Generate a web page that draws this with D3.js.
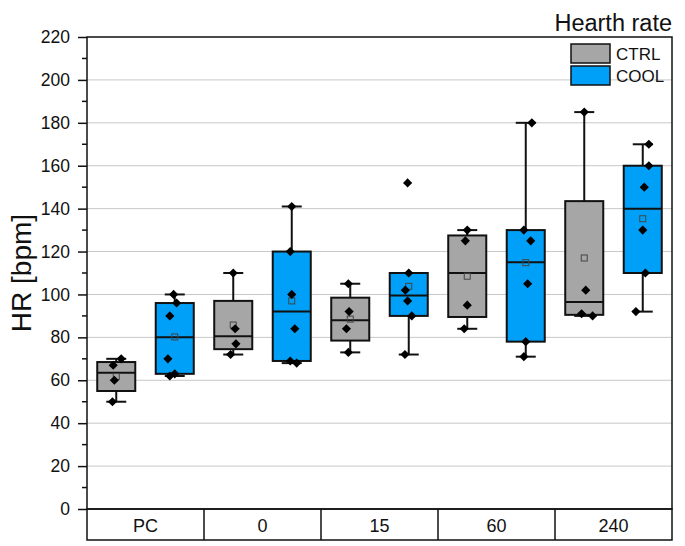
<!DOCTYPE html>
<html>
<head>
<meta charset="utf-8">
<script src="https://cdn.jsdelivr.net/npm/d3@7"></script>
<style>
  body { margin: 0; background: #fff; }
  svg { font-family: "Liberation Sans", Arial, sans-serif; }
</style>
</head>
<body>
<svg id="chart" width="685" height="546"></svg>
<script>
// Heart rate box chart, CTRL vs COOL per time point
const categories = ['PC', '0', '15', '60', '240'];
const groups = ['CTRL', 'COOL'];
const yTicks = [0, 20, 40, 60, 80, 100, 120, 140, 160, 180, 200, 220];

// box statistics
const ctrlQ1 = [55, 74.5, 78.5, 89.5, 90.5];
const ctrlMedian = [63.5, 80.5, 88, 110, 96.5];
const ctrlQ3 = [68.5, 97, 98.5, 127.5, 143.5];
const ctrlLow = [50, 72, 73, 84, 90];
const ctrlHigh = [70, 110, 105, 130, 185];
const ctrlMean = [61.75, 85.75, 88.5, 108.5, 117];

const coolQ1 = [63, 69, 90, 78, 110];
const coolMedian = [80, 92, 99.5, 115, 140];
const coolQ3 = [96, 120, 110, 130, 160];
const coolLow = [62, 68, 72, 71, 92];
const coolHigh = [100, 141, 110, 180, 170];
const coolMean = [80.2, 97, 103.8, 114.8, 135.3];

// individual animals
const ctrlPoints = [[70, 67, 60, 50], [110, 84, 77, 72], [105, 92, 84, 73], [130, 125, 95, 84], [185, 102, 91, 90]];
const coolPoints = [[100, 96, 90, 70, 63, 62], [141, 120, 100, 84, 69, 68], [152, 110, 102, 97, 90, 72],
                    [180, 130, 125, 105, 78, 71], [170, 160, 150, 130, 110, 92]];

// horizontal scatter of the points, as a fraction of the box width
const ctrlJitter = [[.13, -.08, -.05, -.1], [0, .05, .07, -.07], [-.05, -.03, -.1, -.05], [0, -.05, 0, -.08], [0, .04, -.07, .22]];
const coolJitter = [[-.03, .05, -.13, -.18, 0, -.13], [0, -.04, 0, .08, -.04, .13], [-.03, 0, -.09, -.03, .08, -.1],
                    [.16, -.05, .13, .05, 0, -.05], [.16, .16, .04, 0, .07, -.18]];

const colors = { CTRL: '#a6a6a6', COOL: '#00a0f8' };

const plotLeft = 87, plotRight = 672, plotTop = 37, plotBottom = 509, rowH = 31;

const svg = d3.select('#chart');

const x = d3.scaleBand().domain(categories).range([plotLeft, plotRight]);
const sub = d3.scaleBand().domain(groups).range([0, x.bandwidth()]);
const y = d3.scaleLinear().domain([0, 220]).range([plotBottom, plotTop]);
const boxW = sub.bandwidth() * 0.65;
const capW = 20;

// build one record per box
const boxes = [];
categories.forEach((c, i) => {
    boxes.push({ cat: c, group: 'CTRL', q1: ctrlQ1[i], med: ctrlMedian[i], q3: ctrlQ3[i],
        lo: ctrlLow[i], hi: ctrlHigh[i], mean: ctrlMean[i], pts: ctrlPoints[i], jit: ctrlJitter[i] });
    boxes.push({ cat: c, group: 'COOL', q1: coolQ1[i], med: coolMedian[i], q3: coolQ3[i],
        lo: coolLow[i], hi: coolHigh[i], mean: coolMean[i], pts: coolPoints[i], jit: coolJitter[i] });
});
boxes.forEach(b => { b.cx = x(b.cat) + sub(b.group) + sub.bandwidth() / 2; });

// gridlines
svg.append('g')
    .selectAll('line')
    .data(yTicks.filter(t => t > 0 && t < 220))
    .enter()
    .append('line')
    .attr('x1', plotLeft).attr('x2', plotRight)
    .attr('y1', d => y(d)).attr('y2', d => y(d))
    .attr('stroke', '#c8c8c8')
    .attr('stroke-width', 1);

// whiskers
const wg = svg.append('g').attr('stroke', '#111').attr('stroke-width', 2);
boxes.forEach(b => {
    wg.append('line').attr('x1', b.cx).attr('x2', b.cx).attr('y1', y(b.q3)).attr('y2', y(b.hi));
    wg.append('line').attr('x1', b.cx).attr('x2', b.cx).attr('y1', y(b.q1)).attr('y2', y(b.lo));
    wg.append('line').attr('x1', b.cx - capW / 2).attr('x2', b.cx + capW / 2).attr('y1', y(b.hi)).attr('y2', y(b.hi));
    wg.append('line').attr('x1', b.cx - capW / 2).attr('x2', b.cx + capW / 2).attr('y1', y(b.lo)).attr('y2', y(b.lo));
});

// boxes
svg.append('g')
    .selectAll('rect')
    .data(boxes)
    .enter()
    .append('rect')
    .attr('x', d => d.cx - boxW / 2)
    .attr('y', d => y(d.q3))
    .attr('width', boxW)
    .attr('height', d => y(d.q1) - y(d.q3))
    .attr('fill', d => colors[d.group])
    .attr('stroke', '#111')
    .attr('stroke-width', 2);

// medians
svg.append('g')
    .selectAll('line')
    .data(boxes)
    .enter()
    .append('line')
    .attr('x1', d => d.cx - boxW / 2)
    .attr('x2', d => d.cx + boxW / 2)
    .attr('y1', d => y(d.med))
    .attr('y2', d => y(d.med))
    .attr('stroke', '#111')
    .attr('stroke-width', 2);

// means (open squares)
svg.append('g')
    .selectAll('rect')
    .data(boxes)
    .enter()
    .append('rect')
    .attr('x', d => d.cx - 3)
    .attr('y', d => y(d.mean) - 3)
    .attr('width', 6)
    .attr('height', 6)
    .attr('fill', 'none')
    .attr('stroke', '#444')
    .attr('stroke-width', 1);

// data points (diamonds)
const pts = [];
boxes.forEach(b => b.pts.forEach((v, k) => pts.push({ x: b.cx + b.jit[k] * boxW, v: v })));
const diamond = d3.symbol().type(d3.symbolSquare).size(42);
svg.append('g')
    .selectAll('path')
    .data(pts)
    .enter()
    .append('path')
    .attr('d', diamond)
    .attr('transform', d => `translate(${d.x},${y(d.v)}) rotate(45)`)
    .attr('fill', '#000');

// frame
svg.append('rect')
    .attr('x', plotLeft).attr('y', plotTop)
    .attr('width', plotRight - plotLeft).attr('height', plotBottom - plotTop)
    .attr('fill', 'none').attr('stroke', '#111').attr('stroke-width', 1.5);

// y axis
const yAxis = svg.append('g')
    .attr('transform', `translate(${plotLeft},0)`)
    .call(d3.axisLeft(y).tickValues(yTicks).tickSize(9).tickPadding(8));
yAxis.select('.domain').remove();
yAxis.selectAll('line').attr('stroke', '#111').attr('stroke-width', 1.5);
yAxis.selectAll('text').attr('font-size', 17.5).attr('fill', '#111')
    .attr('font-family', '"Liberation Sans", Arial, sans-serif');

svg.append('g')
    .selectAll('line')
    .data(d3.range(10, 220, 20))
    .enter()
    .append('line')
    .attr('x1', plotLeft - 5).attr('x2', plotLeft)
    .attr('y1', d => y(d)).attr('y2', d => y(d))
    .attr('stroke', '#111').attr('stroke-width', 1.5);

svg.append('text')
    .attr('transform', `translate(31,${(plotTop + plotBottom) / 2}) rotate(-90)`)
    .attr('text-anchor', 'middle')
    .attr('font-size', 28)
    .attr('fill', '#111')
    .text('HR [bpm]');

// category row under the plot
svg.append('rect')
    .attr('x', plotLeft).attr('y', plotBottom)
    .attr('width', plotRight - plotLeft).attr('height', rowH)
    .attr('fill', 'none').attr('stroke', '#111').attr('stroke-width', 1.5);
svg.append('g')
    .selectAll('line')
    .data(categories.slice(1))
    .enter()
    .append('line')
    .attr('x1', d => x(d)).attr('x2', d => x(d))
    .attr('y1', plotBottom).attr('y2', plotBottom + rowH)
    .attr('stroke', '#111').attr('stroke-width', 1.5);
svg.append('g')
    .selectAll('text')
    .data(categories)
    .enter()
    .append('text')
    .attr('x', d => x(d) + x.bandwidth() / 2)
    .attr('y', plotBottom + 23)
    .attr('text-anchor', 'middle')
    .attr('font-size', 18)
    .attr('fill', '#111')
    .text(d => d);

// title and legend
svg.append('text')
    .attr('x', plotRight).attr('y', 31)
    .attr('text-anchor', 'end')
    .attr('font-size', 23.5)
    .attr('fill', '#111')
    .text('Hearth rate');

const legend = svg.append('g')
    .selectAll('g')
    .data(groups)
    .enter()
    .append('g')
    .attr('transform', (d, i) => `translate(571,${44 + i * 22})`);
legend.append('rect')
    .attr('width', 39).attr('height', 19)
    .attr('fill', d => colors[d])
    .attr('stroke', '#111').attr('stroke-width', 1.5);
legend.append('text')
    .attr('x', 45).attr('y', 16)
    .attr('font-size', 17)
    .attr('fill', '#111')
    .text(d => d);
</script>
</body>
</html>
